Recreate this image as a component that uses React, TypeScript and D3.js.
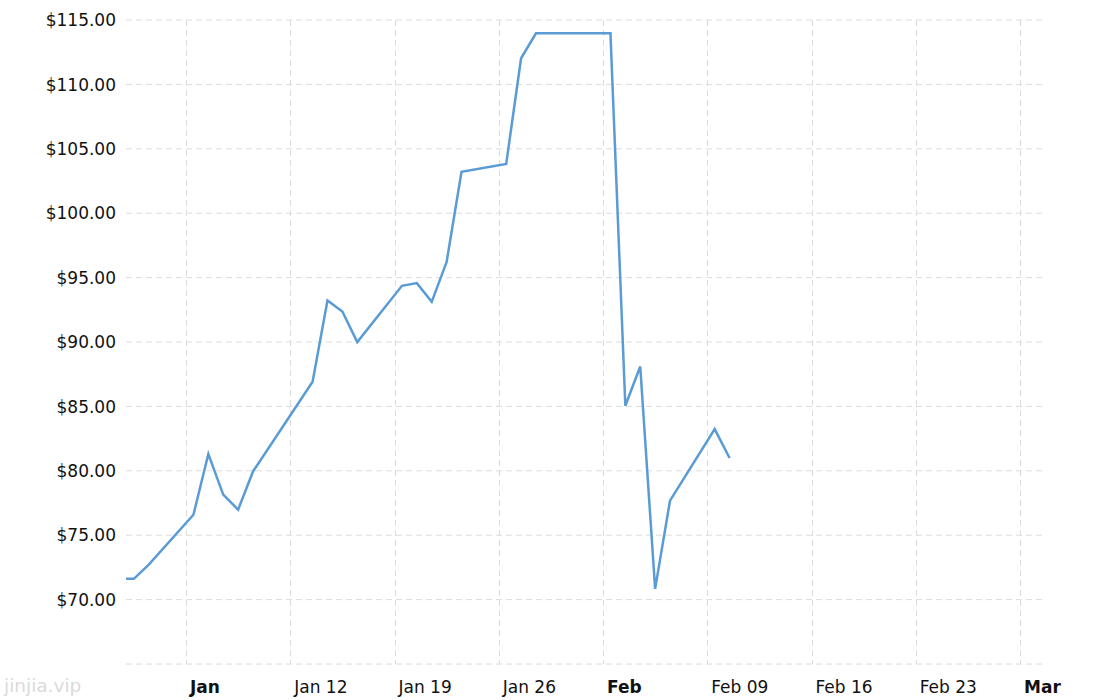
import React from "react";
import * as d3 from "d3";

// Trading days, expressed as day offsets from the "Jan" tick (points sit at mid-day)
const dayOffsets = [-4.5, -3.5, -2.5, 0.5, 1.5, 2.5, 3.5, 4.5, 8.5, 9.5, 10.5, 11.5, 14.5, 15.5, 16.5, 17.5, 18.5, 21.5, 22.5, 23.5, 24.5, 25.5, 28.5, 29.5, 30.5, 31.5, 32.5, 35.5, 36.5];
const prices = [71.61, 71.61, 72.72, 76.59, 81.3, 78.15, 76.98, 79.95, 86.91, 93.22, 92.37, 89.99, 94.36, 94.57, 93.12, 96.22, 103.21, 103.83, 112.03, 113.97, 113.97, 113.97, 113.97, 85.05, 88.1, 70.83, 77.68, 83.24, 80.99];

const xTickDays = [0, 7, 14, 21, 28, 35, 42, 49, 56];
const xTickLabels = ["Jan", "Jan 12", "Jan 19", "Jan 26", "Feb", "Feb 09", "Feb 16", "Feb 23", "Mar"];
const xTickBold = [true, false, false, false, true, false, false, false, true];

const yTicks = [65, 70, 75, 80, 85, 90, 95, 100, 105, 110, 115];
const yLabelled = [70, 75, 80, 85, 90, 95, 100, 105, 110, 115];

const W = 1110;
const H = 700;
const plot = { left: 126, right: 1045, top: 20, bottom: 664 };
const FONT = "'DejaVu Sans', Verdana, sans-serif";

export default function App() {
  const pxPerDay = (1020 - 186) / 56;
  const x = d3
    .scaleLinear()
    .domain([-(186 - plot.left) / pxPerDay, (plot.right - 186) / pxPerDay])
    .range([plot.left, plot.right]);
  const y = d3.scaleLinear().domain([65, 115]).range([plot.bottom, plot.top]);

  const pts = dayOffsets.map((d, i) => [d, prices[i]] as [number, number]);
  const line = d3
    .line<[number, number]>()
    .x((d) => x(d[0]))
    .y((d) => y(d[1]));

  return (
    <svg
      width={W}
      height={H}
      style={{ position: "absolute", left: 0, top: 0, background: "#fff" }}
      fontFamily={FONT}
    >
      <defs>
        <clipPath id="plotclip">
          <rect x={plot.left} y={plot.top - 5} width={plot.right - plot.left} height={plot.bottom - plot.top + 10} />
        </clipPath>
      </defs>
      {/* horizontal grid */}
      {yTicks.map((t) => (
        <line
          key={"h" + t}
          x1={plot.left}
          x2={plot.right}
          y1={y(t)}
          y2={y(t)}
          stroke="#dcdcdc"
          strokeWidth={1}
          strokeDasharray="6,4"
        />
      ))}
      {/* vertical grid */}
      {xTickDays.map((d) => (
        <line
          key={"v" + d}
          x1={Math.round(x(d)) + 0.5}
          x2={Math.round(x(d)) + 0.5}
          y1={plot.top}
          y2={plot.bottom}
          stroke="#dcdcdc"
          strokeWidth={1}
          strokeDasharray="6,4"
        />
      ))}
      {/* y labels */}
      {yLabelled.map((t) => (
        <text
          key={"yl" + t}
          x={116}
          y={y(t)}
          dy="0.36em"
          textAnchor="end"
          fontSize={17}
          fill="#111"
        >
          {"$" + t.toFixed(2)}
        </text>
      ))}
      {/* x labels */}
      {xTickDays.map((d, i) => (
        <text
          key={"xl" + d}
          x={x(d) + 4}
          y={693}
          textAnchor="start"
          fontSize={17}
          fontWeight={xTickBold[i] ? "bold" : "normal"}
          fill="#111"
        >
          {xTickLabels[i]}
        </text>
      ))}
      {/* price line */}
      <path
        d={line(pts) || ""}
        fill="none"
        stroke="#5b9bd5"
        strokeWidth={2.5}
        strokeLinejoin="miter"
        clipPath="url(#plotclip)"
      />
      {/* watermark */}
      <text x={4} y={692} fontSize={18.5} fill="#dadada">
        jinjia.vip
      </text>
    </svg>
  );
}
